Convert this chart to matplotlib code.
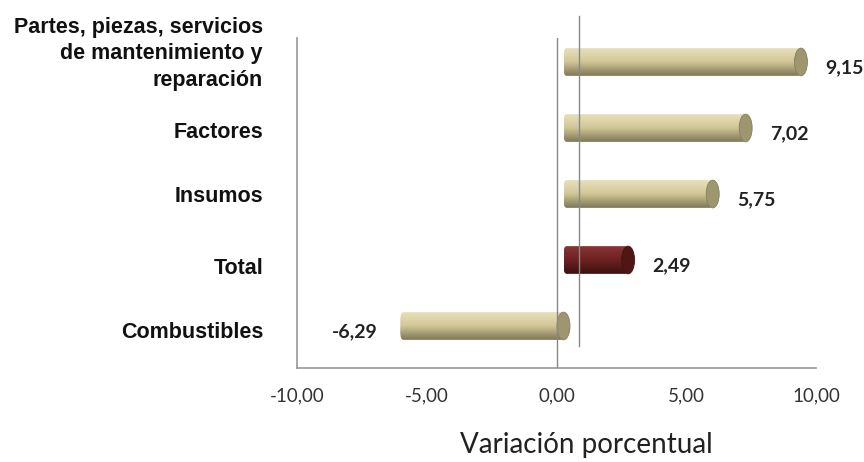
import numpy as np
import matplotlib
matplotlib.use("Agg")
import matplotlib.pyplot as plt
from matplotlib.patches import FancyBboxPatch, Ellipse
from matplotlib.transforms import ScaledTranslation, blended_transform_factory
from matplotlib.colors import LinearSegmentedColormap

categories = ["Partes, piezas, servicios\nde mantenimiento y\nreparación",
              "Factores", "Insumos", "Total", "Combustibles"]
values = [9.15, 7.02, 5.75, 2.49, -6.29]
value_labels = ["9,15", "7,02", "5,75", "2,49", "-6,29"]
xticks = [-10, -5, 0, 5, 10]
xtick_labels = ["-10,00", "-5,00", "0,00", "5,00", "10,00"]
# small vertical nudges (px) of the category labels, as laid out in the original
label_nudge = [17, 4, 6, 1, 2]

tan_cmap = LinearSegmentedColormap.from_list(
    "tan", ["#e6dfbb", "#ddd4a8", "#cfc596", "#a69d74", "#7e7859"])
red_cmap = LinearSegmentedColormap.from_list(
    "red", ["#8a3434", "#7a2a2a", "#6c2222", "#551818", "#3e1010"])

fig = plt.figure(figsize=(8.64, 4.62), dpi=100)
ax = fig.add_axes([297 / 864, 94 / 462, 519 / 864, 330 / 462])
ax.set_xlim(-10, 10)
ax.set_ylim(len(categories) - 0.5, -0.5)

# bars sit a bit deeper than the front plane of the 3D box
bar_tr = ax.transData + ScaledTranslation(7 / 100, 9 / 100, fig.dpi_scale_trans)
val_tr = ax.transData + ScaledTranslation(0, 3 / 100, fig.dpi_scale_trans)
h = 0.42
for i, (v, lab) in enumerate(zip(values, value_labels)):
    cmap = red_cmap if categories[i] == "Total" else tan_cmap
    x0, x1 = min(0, v), max(0, v)
    body = FancyBboxPatch((x0, i - h / 2), x1 - x0, h,
                          boxstyle="round,pad=0,rounding_size=0.12",
                          transform=bar_tr, facecolor="none", edgecolor="none")
    ax.add_patch(body)
    grad = np.linspace(0, 1, 64).reshape(-1, 1)
    im = ax.imshow(grad, cmap=cmap, aspect="auto", extent=(x0, x1, i + h / 2, i - h / 2),
                   transform=bar_tr, zorder=2, interpolation="bicubic")
    im.set_clip_path(body)
    cap = Ellipse((x1, i), 0.5, h, transform=bar_tr, zorder=3,
                  facecolor=cmap(0.8), edgecolor=cmap(0.95), linewidth=0.6)
    ax.add_patch(cap)
    if v >= 0:
        ax.text(x1 + 1.2, i, lab, transform=val_tr, ha="left", va="center",
                fontsize=14, fontweight="bold", family="Lato", color="#222222")
    else:
        ax.text(x0 - 0.6, i, lab, transform=val_tr, ha="right", va="center",
                fontsize=14, fontweight="bold", family="Lato", color="#222222")

# back wall zero line
back_tr = ax.transData + ScaledTranslation(22 / 100, 22 / 100, fig.dpi_scale_trans)
ax.plot([0, 0], [len(categories) - 0.5, -0.5], transform=back_tr,
        color="#888888", linewidth=1.0, zorder=4, clip_on=False)
# front zero line
ax.axvline(0, color="#888888", linewidth=1.0, zorder=4)

for side in ["top", "right"]:
    ax.spines[side].set_visible(False)
ax.spines["left"].set_color("#999999")
ax.spines["bottom"].set_color("#999999")
ax.spines["bottom"].set_linewidth(1.2)
ax.spines["left"].set_linewidth(1.2)

ax.set_xticks(xticks)
ax.set_xticklabels(xtick_labels, family="Lato", fontsize=13.5, color="#333333")
ax.set_yticks([])
ax.tick_params(axis="both", length=0)
ax.tick_params(axis="x", pad=14)

# category labels
lab_tr = blended_transform_factory(ax.transAxes, ax.transData)
for i, (cat, dy) in enumerate(zip(categories, label_nudge)):
    tr = lab_tr + ScaledTranslation(-34 / 100, dy / 100, fig.dpi_scale_trans)
    ax.text(0, i, cat, transform=tr, ha="right", va="center", multialignment="right",
            family="Liberation Sans", fontweight="bold", fontsize=15.5,
            color="#111111", linespacing=1.35)

ax.set_xlabel("Variación porcentual", family="Lato", fontsize=20,
              color="#222222", va="center")
ax.xaxis.set_label_coords(0.557, -0.233)

fig.savefig("out.png", dpi=100)
